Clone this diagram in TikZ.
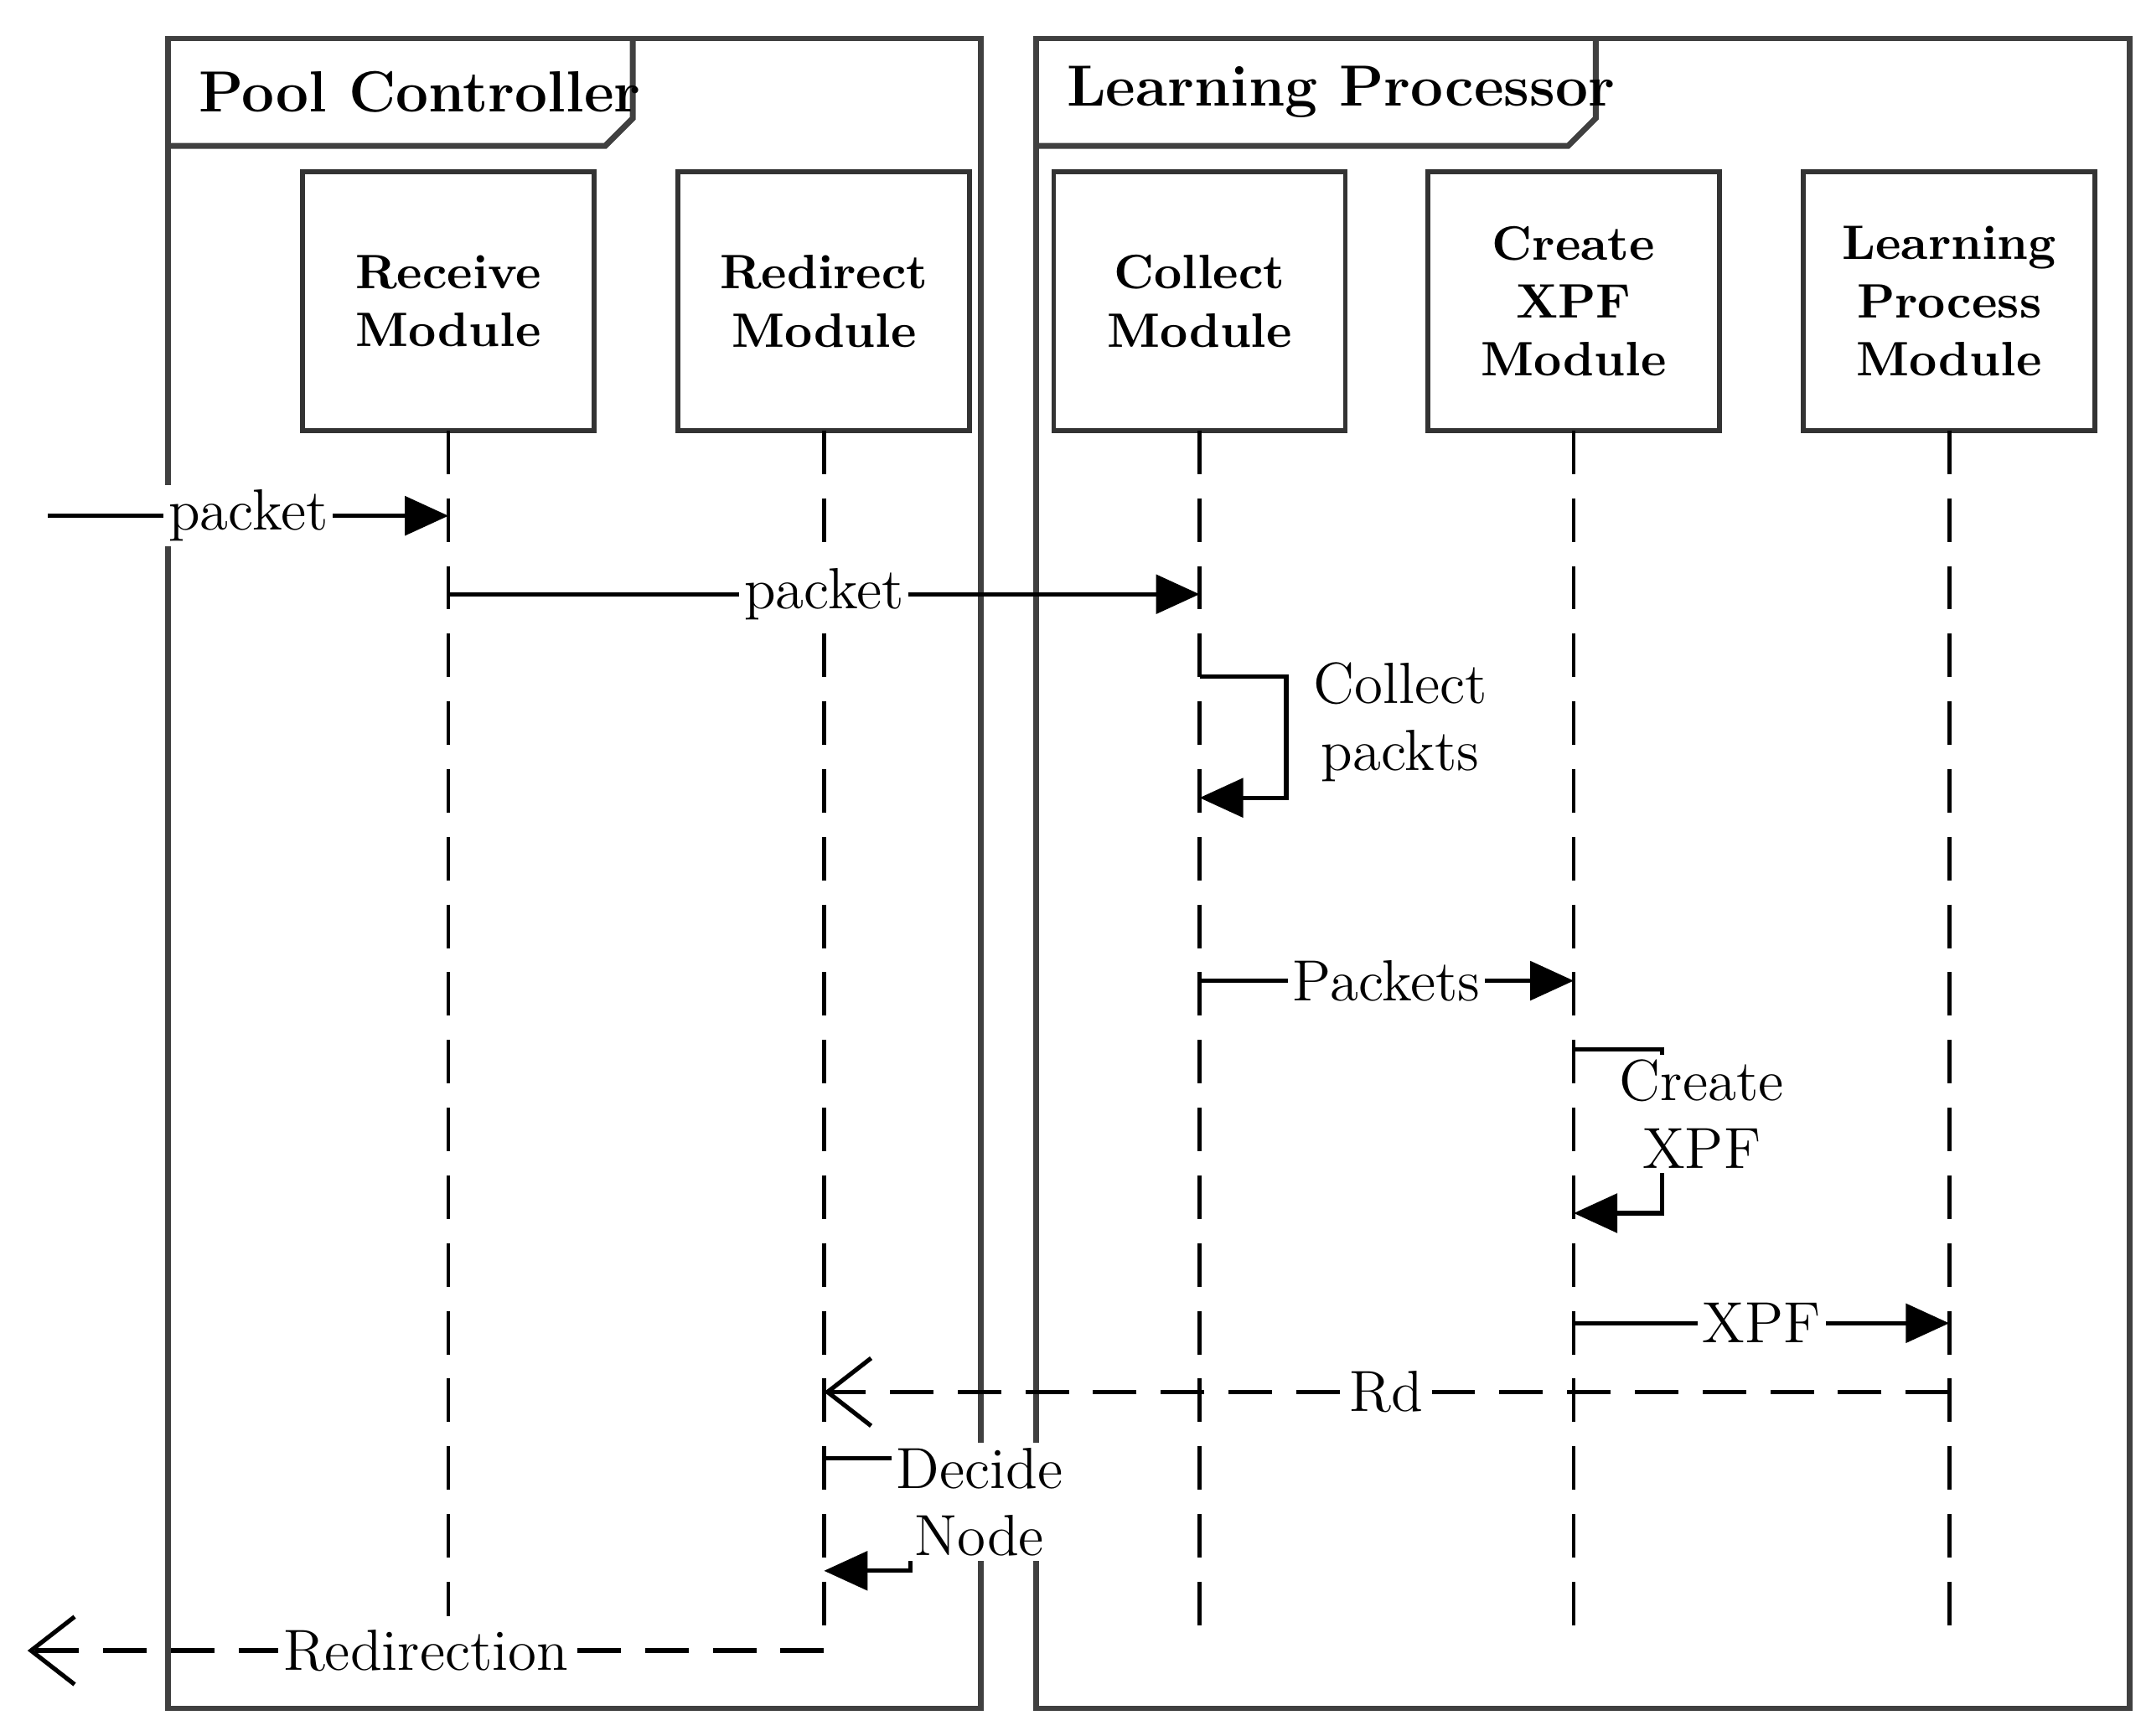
\documentclass[tikz,border=0pt]{standalone}
\usetikzlibrary{arrows.meta}
\begin{document}
\begin{tikzpicture}[x=0.01cm,y=-0.01cm,
  frame/.style={draw=black!75,line width=1.2pt},
  mod/.style={draw=black!80,line width=1pt,minimum width=212\pgflinewidth,align=center,font=\bfseries},
  life/.style={dashed,line width=0.8pt,dash pattern=on 9pt off 5pt},
  msg/.style={line width=0.9pt,-{Triangle[length=9pt,width=8pt]}},
  ret/.style={line width=0.9pt,dash pattern=on 9pt off 5pt,-{Straight Barb[length=9pt,width=14pt]}},
  lbl/.style={fill=white,inner sep=1pt,font=\large},
  tlbl/.style={align=center,font=\large,inner sep=1pt}]
\useasboundingbox (0,0) rectangle (1560,1262);
% frames
\draw[frame] (122,28) rectangle (713,1242);
\draw[frame] (122,106) -- (440,106) -- (460,86) -- (460,28);
\node[font=\large\bfseries,anchor=west] (pc) at (132,67) {Pool Controller};
\draw[frame] (753,28) rectangle (1548,1242);
\draw[frame] (753,106) -- (1140,106) -- (1160,86) -- (1160,28);
\node[font=\large\bfseries,anchor=west] (lp) at (763,67) {Learning Processor};
% modules
\foreach \n/\x/\t in {rm/326/{Receive\\Module},dm/599/{Redirect\\Module},cm/872/{Collect\\Module},xm/1144/{Create\\XPF\\Module},lm/1417/{Learning\\Process\\Module}}{
  \draw[line width=1pt,draw=black!80] (\x-106,125) rectangle (\x+106,313);
  \node[align=center,font=\bfseries] (\n) at (\x,219) {\t};
  \coordinate (\n top) at (\x,313);
}
\draw[life] (rmtop) -- (326,1175);
\draw[life] (dmtop) -- (599,1195);
\draw[life] (cmtop) -- (872,1195);
\draw[life] (xmtop) -- (1144,1195);
\draw[life] (lmtop) -- (1417,1195);
% messages
\coordinate (in) at (35,375); \coordinate (rm1) at (326,375);
\draw[msg] (in) -- node[lbl,pos=0.5]{packet} (rm1);
\coordinate (rm2) at (326,432); \coordinate (cm2) at (872,432);
\draw[msg] (rm2) -- node[lbl,pos=0.5]{packet} (cm2);
\coordinate (c1) at (872,492); \coordinate (c2) at (872,580);
\draw[msg] (c1) -- (935,492) -- (935,580) -- (c2);
\node[tlbl] (cl) at (1018,525) {Collect\\packts};
\coordinate (c3) at (872,713); \coordinate (x3) at (1144,713);
\draw[msg] (c3) -- node[lbl,pos=0.5]{Packets} (x3);
\coordinate (x4) at (1144,763); \coordinate (x5) at (1144,882);
\draw[msg] (x4) -- (1208,763) -- (1208,882) -- (x5);
\node[tlbl,fill=white] (xl) at (1237,810) {Create\\XPF};
\coordinate (x6) at (1144,962); \coordinate (l6) at (1417,962);
\draw[msg] (x6) -- node[lbl,pos=0.5]{XPF} (l6);
\coordinate (l7) at (1417,1012); \coordinate (d7) at (599,1012);
\draw[ret] (l7) -- node[lbl,pos=0.5]{Rd} (d7);
\coordinate (d8) at (599,1060); \coordinate (d9) at (599,1142);
\draw[msg] (d8) -- (662,1060) -- (662,1142) -- (d9);
\node[tlbl,fill=white] (dl) at (712,1092) {Decide\\Node};
\coordinate (d10) at (599,1200); \coordinate (out) at (20,1200);
\draw[ret] (d10) -- node[lbl,pos=0.5]{Redirection} (out);
\end{tikzpicture}
\end{document}
